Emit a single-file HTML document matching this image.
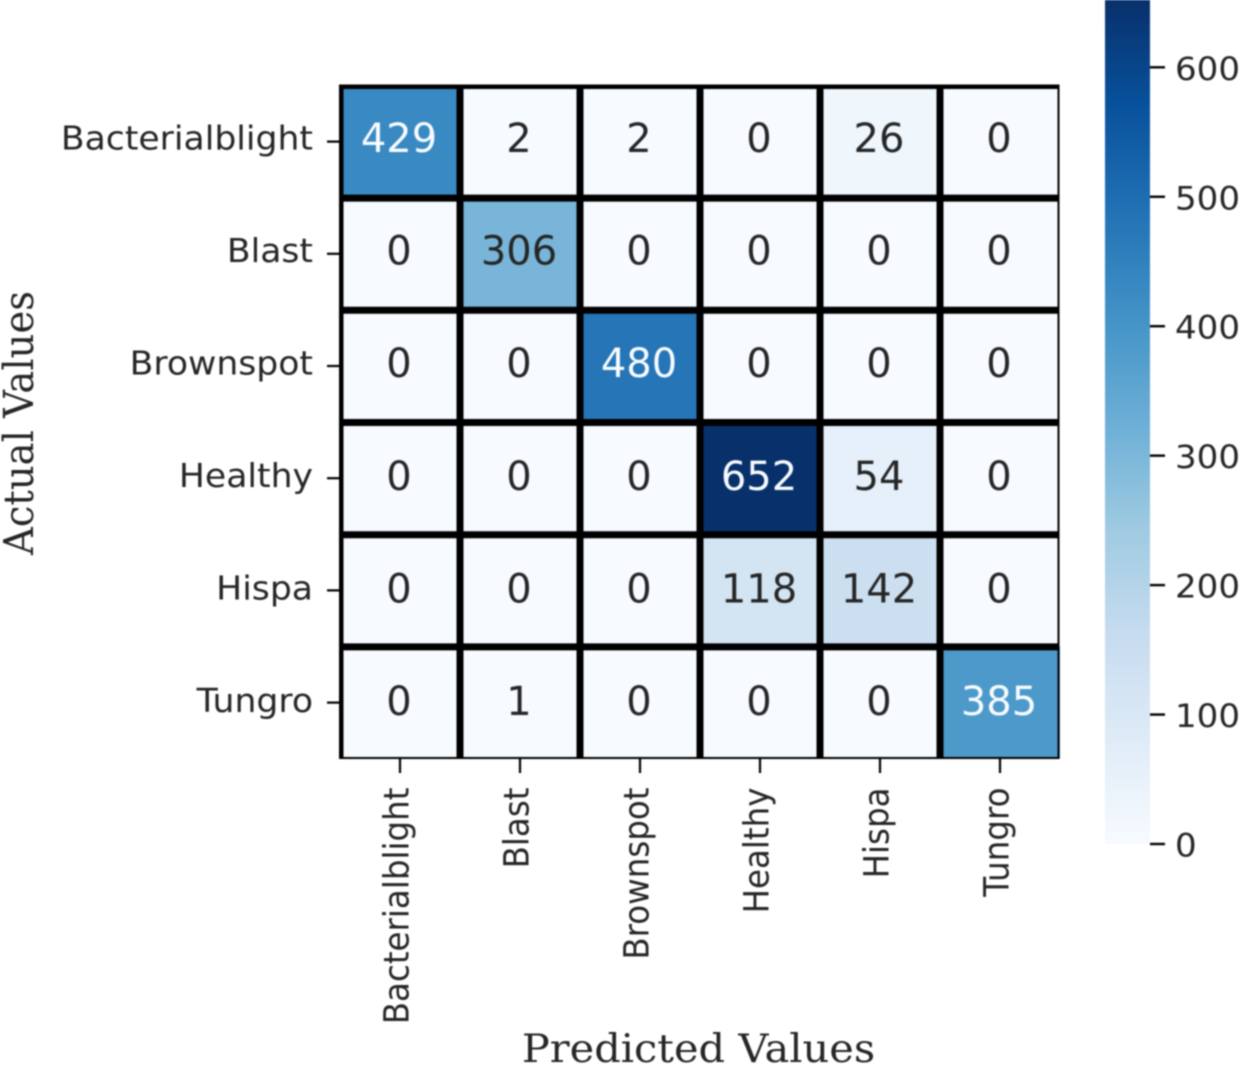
<!DOCTYPE html>
<html>
<head>
<meta charset="utf-8">
<title>Confusion matrix</title>
<style>
html,body{margin:0;padding:0;background:#fff;}
svg{display:block;filter:blur(0.7px);}
text{font-family:"DejaVu Sans","Liberation Sans",sans-serif;}
.serif{font-family:"DejaVu Serif","Liberation Serif",serif;}
</style>
</head>
<body>
<svg id="chart" xmlns="http://www.w3.org/2000/svg" width="1240" height="1065" viewBox="0 0 1240 1065"></svg>
<script>
const classLabels = ["Bacterialblight","Blast","Brownspot","Healthy","Hispa","Tungro"];
const row0 = [429,2,2,0,26,0];
const row1 = [0,306,0,0,0,0];
const row2 = [0,0,480,0,0,0];
const row3 = [0,0,0,652,54,0];
const row4 = [0,0,0,118,142,0];
const row5 = [0,1,0,0,0,385];
const matrix = [row0,row1,row2,row3,row4,row5];
const colorbarTicks = [0,100,200,300,400,500,600];
const xAxisTitle = "Predicted Values";
const yAxisTitle = "Actual Values";
const blues = ["#f7fbff","#deebf7","#c6dbef","#9ecae1","#6baed6","#4292c6","#2171b5","#08519c","#08306b"];

const NS = "http://www.w3.org/2000/svg";
const svg = document.getElementById("chart");
const plot = {left:340, top:85.5, width:720, height:673.2};
const bar = {left:1105, right:1150, top:0, bottom:844};
const STRETCH = 1.065;
const vMin = Math.min(...matrix.flat());
const vMax = Math.max(...matrix.flat());
const xBand = i => plot.left + i * plot.width / classLabels.length;
const yBand = i => plot.top + i * plot.height / classLabels.length;
const barY = v => bar.bottom - (v - vMin) / (vMax - vMin) * (bar.bottom - bar.top);

function hexToRgb(h){return [1,3,5].map(i => parseInt(h.slice(i,i+2),16));}
function colorFor(v){
  const t = Math.max(0, Math.min(1, (v - vMin) / (vMax - vMin))) * (blues.length - 1);
  const i = Math.min(Math.floor(t), blues.length - 2);
  const f = t - i;
  const a = hexToRgb(blues[i]), b = hexToRgb(blues[i+1]);
  return "rgb(" + a.map((c,k) => Math.round(c + (b[k]-c)*f)).join(",") + ")";
}
function make(tag, attrs, parent){
  const el = document.createElementNS(NS, tag);
  for (const k in attrs) el.setAttribute(k, attrs[k]);
  (parent || svg).appendChild(el);
  return el;
}
function label(str, x, y, size, anchor, rot, fill, sx){
  const t = make("text", {
    transform: "translate(" + x + "," + y + ") scale(" + (sx || STRETCH) + ",1) rotate(" + rot + ")",
    "font-size": size, "text-anchor": anchor, fill: fill
  });
  t.textContent = str;
  return t;
}

// Colorbar
const defs = make("defs", {});
const grad = make("linearGradient", {id:"cbar-gradient", x1:0, y1:1, x2:0, y2:0}, defs);
blues.forEach((c,i) => make("stop", {offset: i/(blues.length-1), "stop-color": c}, grad));
const cbar = make("rect", {x:bar.left, y:bar.top, width:bar.right-bar.left, height:bar.bottom-bar.top, fill:"url(#cbar-gradient)"});


colorbarTicks.forEach(v => {
  const y = barY(v);
  const tick = make("line", {x1:bar.right, x2:bar.right+15, y1:y, y2:y, stroke:"#000", "stroke-width":2.4});
  
  
  const t = label(String(v), 1175, y + 12.5, 32, "start", 0, "#262626");
  
  
});

// Cells and annotations
matrix.forEach((row, r) => row.forEach((v, c) => {
  const x = xBand(c), y = yBand(r), w = plot.width/classLabels.length, h = plot.height/classLabels.length;
  const cell = make("rect", {x:x, y:y, width:w, height:h, fill:colorFor(v)});
  
  
  const t = label(String(v), x + w/2 - 1, y + h/2 + 10.5 + r*0.35, 40, "middle", 0, (v - vMin)/(vMax - vMin) > 0.5 ? "#f7fbff" : "#262626", 1.0);
  
  
}));

// Grid lines
for (let i = 1; i < classLabels.length; i++) {
  const v = make("line", {x1:xBand(i), x2:xBand(i), y1:plot.top, y2:plot.top+plot.height, stroke:"#000", "stroke-width":7});
  
  
  const h = make("line", {x1:plot.left, x2:plot.left+plot.width-1, y1:yBand(i)+0.4, y2:yBand(i)+0.4, stroke:"#000", "stroke-width":7});
  
  
}
// Frame: thick top/left, thin right/bottom
const frameT = make("rect", {x:339, y:84.5, width:720.5, height:4.5, fill:"#000"});


const frameL = make("rect", {x:339, y:84.5, width:4.5, height:674.5, fill:"#000"});


const frameR = make("rect", {x:1057.5, y:84.5, width:2, height:674.5, fill:"#000"});


const frameB = make("rect", {x:339, y:757, width:720.5, height:2, fill:"#000"});



// Axis ticks and labels
classLabels.forEach((name, i) => {
  const w = plot.width/classLabels.length, h = plot.height/classLabels.length;
  const yc = yBand(i) + h/2;
  const yt = make("line", {x1:327, x2:339, y1:yc, y2:yc, stroke:"#000", "stroke-width":2.2});
  
  
  const yl = label(name, 313, yc + 8 + i*0.25, 32.5, "end", 0, "#262626");
  
  
  const xc = xBand(i) + w/2;
  const xt = make("line", {x1:xc, x2:xc, y1:759, y2:773, stroke:"#000", "stroke-width":2.2});
  
  
  const xl = label(name, xc + 8.5, 787.5, 32.5, "end", -90, "#262626");
  
  
});

// Axis titles
const xTitle = label(xAxisTitle, 698.5, 1062, 39, "middle", 0, "#262626");
xTitle.setAttribute('class', 'serif');


const yTitle = label(yAxisTitle, 33, 423, 38.5, "middle", -90, "#262626");
yTitle.setAttribute('class', 'serif');


</script>
</body>
</html>
